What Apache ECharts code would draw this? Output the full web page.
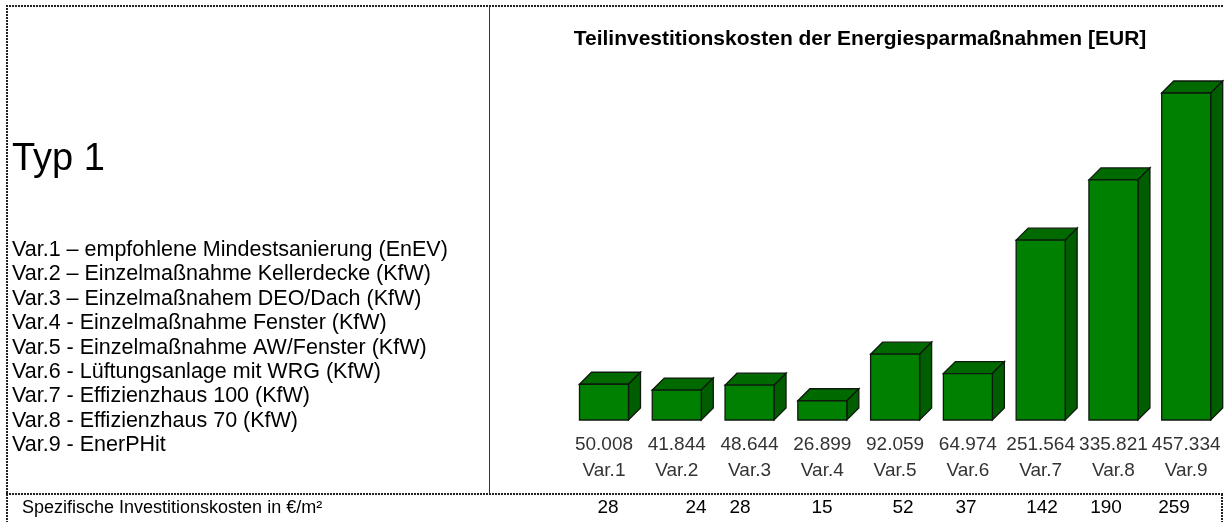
<!DOCTYPE html>
<html>
<head>
<meta charset="utf-8">
<script src="https://cdn.jsdelivr.net/npm/echarts@6/dist/echarts.min.js"></script>
<style>
html,body{margin:0;padding:0;background:#fff;}
#chart{width:1230px;height:522px;}
</style>
</head>
<body>
<div id="chart"></div>
<script>
// ---- data ----
var categories = ['Var.1','Var.2','Var.3','Var.4','Var.5','Var.6','Var.7','Var.8','Var.9'];
var costs = [50008, 41844, 48644, 26899, 92059, 64974, 251564, 335821, 457334];
var specificCosts = [28, 24, 28, 15, 52, 37, 142, 190, 259];
var titleText = 'Teilinvestitionskosten der Energiesparmaßnahmen [EUR]';
var typeText = 'Typ 1';
var legendLines = [
  'Var.1 – empfohlene Mindestsanierung (EnEV)',
  'Var.2 – Einzelmaßnahme Kellerdecke (KfW)',
  'Var.3 – Einzelmaßnahem DEO/Dach (KfW)',
  'Var.4 - Einzelmaßnahme Fenster (KfW)',
  'Var.5 - Einzelmaßnahme AW/Fenster (KfW)',
  'Var.6 - Lüftungsanlage mit WRG (KfW)',
  'Var.7 - Effizienzhaus 100 (KfW)',
  'Var.8 - Effizienzhaus 70 (KfW)',
  'Var.9 - EnerPHit'
];
var rowLabel = 'Spezifische Investitionskosten in €/m²';

// ---- layout (not data): table-cell x positions of the bottom row ----
var FONT = '"Liberation Sans", Arial, sans-serif';
var rowCellX = [608, 696, 740, 822, 903, 966, 1042, 1106, 1174];

function fmt(n){ return String(n).replace(/\B(?=(\d{3})+(?!\d))/g, '.'); }

var chart = echarts.init(document.getElementById('chart'), null, {renderer:'canvas'});

var graphics = [];
var dotted = {stroke:'#222', lineWidth:2, lineDash:[2,1]};
graphics.push({type:'line', shape:{x1:6,y1:6,x2:1223,y2:6}, style:dotted, silent:true});
graphics.push({type:'line', shape:{x1:7,y1:5,x2:7,y2:522}, style:dotted, silent:true});
graphics.push({type:'line', shape:{x1:6,y1:494,x2:1223,y2:494}, style:dotted, silent:true});
graphics.push({type:'line', shape:{x1:1222,y1:494,x2:1222,y2:522}, style:dotted, silent:true});
graphics.push({type:'line', shape:{x1:489.5,y1:7,x2:489.5,y2:494}, style:{stroke:'#333', lineWidth:1}, silent:true});
// left panel texts
graphics.push({type:'text', x:12, y:160, style:{text:typeText, font:'38px '+FONT, fill:'#000', verticalAlign:'middle'}});
legendLines.forEach(function(t,i){
  graphics.push({type:'text', x:12, y:250 + i*24.4, style:{text:t, font:'21.5px '+FONT, fill:'#000', verticalAlign:'middle'}});
});
// bottom table row
graphics.push({type:'text', x:22, y:508, style:{text:rowLabel, font:'18px '+FONT, fill:'#000', verticalAlign:'middle'}});
specificCosts.forEach(function(v,i){
  graphics.push({type:'text', x:rowCellX[i], y:508, style:{text:String(v), font:'19px '+FONT, fill:'#000', align:'center', verticalAlign:'middle'}});
});

var option = {
  backgroundColor:'#fff',
  animation:false,
  title:{
    text:titleText, left:855, top:24, textAlign:'center',
    textStyle:{fontFamily:FONT, fontSize:21, fontWeight:'bold', color:'#000'}
  },
  grid:{left:567.6, right:7.4, top:62.5, bottom:102, containLabel:false},
  xAxis:{
    type:'category', data:categories,
    axisLine:{show:false}, axisTick:{show:false}, splitLine:{show:false},
    axisLabel:{
      interval:0, margin:12, fontFamily:FONT, fontSize:19, color:'#333', lineHeight:26,
      formatter:function(v, i){ return fmt(costs[i]) + '\n' + v; }
    }
  },
  yAxis:{type:'value', min:0, max:500000, show:false},
  series:[{
    type:'custom',
    data: costs.map(function(v,i){ return [i, v]; }),
    encode:{x:0, y:1},
    renderItem:function(params, api){
      var top = api.coord([api.value(0), api.value(1)]);
      var base = api.coord([api.value(0), 0]);
      var w = 49, dx = 12, dy = 12;
      var x0 = top[0] - w/2, x1 = top[0] + w/2;
      var yT = top[1], yB = base[1];
      var stroke = '#0d1a0d';
      return {
        type:'group',
        children:[
          {type:'polygon', shape:{points:[[x0,yT],[x0+dx,yT-dy],[x1+dx,yT-dy],[x1,yT]]},
            style:{fill:'#006a00', stroke:stroke, lineWidth:1.3}},
          {type:'polygon', shape:{points:[[x1,yT],[x1+dx,yT-dy],[x1+dx,yB-dy],[x1,yB]]},
            style:{fill:'#005e00', stroke:stroke, lineWidth:1.3}},
          {type:'rect', shape:{x:x0, y:yT, width:w, height:yB-yT},
            style:{fill:'#008000', stroke:stroke, lineWidth:1.3}}
        ]
      };
    }
  }],
  graphic: graphics
};
chart.setOption(option);
</script>
</body>
</html>
